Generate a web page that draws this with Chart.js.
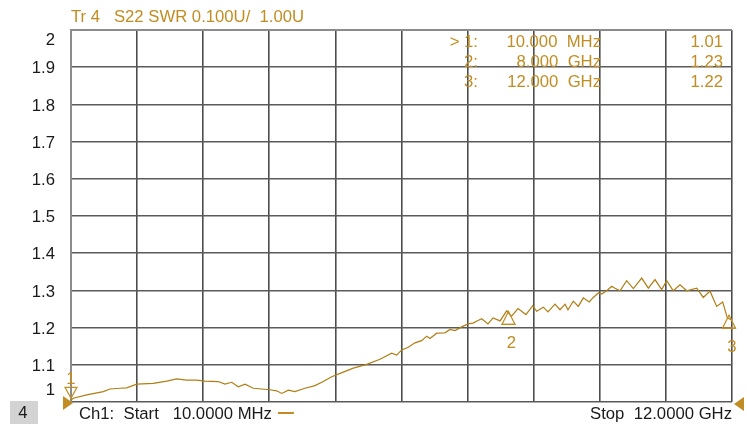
<!DOCTYPE html>
<html>
<head>
<meta charset="utf-8">
<script src="https://cdn.jsdelivr.net/npm/chart.js@4"></script>
<style>
  html, body { margin: 0; padding: 0; background: #fff; }
  #wrap { width: 747px; height: 426px; position: relative; }
</style>
</head>
<body>
<div id="wrap"><canvas id="swrChart" width="747" height="426"></canvas></div>
<script>
// trace: frequency (GHz) and SWR
var freqs = [0.01, 0.052, 0.295, 0.596, 0.717, 0.899, 1.020, 1.202, 1.503, 1.746,
  1.927, 2.109, 2.290, 2.441, 2.682, 2.803, 2.925, 3.045, 3.166, 3.317,
  3.469, 3.620, 3.741, 3.832, 3.952, 4.073, 4.254, 4.436, 4.586, 4.739,
  4.926, 5.131, 5.374, 5.615, 5.827, 5.918, 6.009, 6.128, 6.250, 6.371,
  6.462, 6.522, 6.643, 6.794, 6.885, 6.975, 7.097, 7.211, 7.302, 7.393,
  7.460, 7.574, 7.665, 7.792, 7.913, 8.000, 8.118, 8.263, 8.385, 8.457,
  8.577, 8.662, 8.789, 8.880, 8.971, 9.025, 9.121, 9.212, 9.303, 9.411,
  9.484, 9.575, 9.636, 9.727, 9.818, 9.878, 9.968, 10.090, 10.210, 10.362,
  10.482, 10.603, 10.725, 10.816, 10.935, 11.057, 11.178, 11.360, 11.479, 11.601,
  11.722, 11.831, 11.915, 12.0];
var swr = [1.005, 1.010, 1.019, 1.028, 1.035, 1.037, 1.038, 1.048, 1.050, 1.056,
  1.062, 1.059, 1.059, 1.056, 1.055, 1.048, 1.053, 1.041, 1.048, 1.037,
  1.035, 1.033, 1.030, 1.023, 1.032, 1.028, 1.037, 1.044, 1.055, 1.068,
  1.079, 1.091, 1.101, 1.115, 1.131, 1.126, 1.140, 1.147, 1.159, 1.165,
  1.177, 1.171, 1.185, 1.186, 1.195, 1.192, 1.202, 1.210, 1.212, 1.219,
  1.224, 1.210, 1.226, 1.218, 1.245, 1.230, 1.251, 1.235, 1.259, 1.244,
  1.255, 1.242, 1.263, 1.248, 1.263, 1.248, 1.271, 1.257, 1.280, 1.269,
  1.281, 1.293, 1.290, 1.299, 1.311, 1.306, 1.299, 1.326, 1.305, 1.333,
  1.306, 1.329, 1.302, 1.326, 1.299, 1.315, 1.299, 1.306, 1.281, 1.298,
  1.257, 1.269, 1.226, 1.22];

var yTicks = [1, 1.1, 1.2, 1.3, 1.4, 1.5, 1.6, 1.7, 1.8, 1.9, 2];
var yTickLabels = ['1', '1.1', '1.2', '1.3', '1.4', '1.5', '1.6', '1.7', '1.8', '1.9', '2'];
var xStart = 0.01, xStop = 12.0, xDivs = 10;

var markerIds = ['1', '2', '3'];
var markerFreqs = [0.01, 8.0, 12.0];
var markerVals = [1.01, 1.23, 1.22];
var markerFreqText = ['10.000  MHz', '8.000  GHz', '12.000  GHz'];
var markerValText = ['1.01', '1.23', '1.22'];

var titleText = 'Tr 4   S22 SWR 0.100U/  1.00U';
var startText = 'Ch1:  Start   10.0000 MHz';
var stopText = 'Stop  12.0000 GHz';

var GOLD = '#c18d22';
var TRACE = '#b07e14';
var FONT = '16.7px "Liberation Sans", Arial, sans-serif';

var xGrid = [];
for (var i = 0; i <= xDivs; i++) xGrid.push(xStart + (xStop - xStart) * i / xDivs);

var points = freqs.map((f, i) => ({ x: f, y: swr[i] }));

function tri(ctx, x, y, w, h, up, fill) {
    ctx.beginPath();
    if (up) {
        ctx.moveTo(x, y); ctx.lineTo(x - w / 2, y + h); ctx.lineTo(x + w / 2, y + h);
    } else {
        ctx.moveTo(x, y); ctx.lineTo(x - w / 2, y - h); ctx.lineTo(x + w / 2, y - h);
    }
    ctx.closePath();
    if (fill) ctx.fill(); else ctx.stroke();
}

function tri2(ctx, x, y, h, w, right) {
    ctx.beginPath();
    if (right) {
        ctx.moveTo(x, y); ctx.lineTo(x + w, y + h / 2); ctx.lineTo(x, y + h);
    } else {
        ctx.moveTo(x, y); ctx.lineTo(x - w, y + h / 2); ctx.lineTo(x, y + h);
    }
    ctx.closePath();
    ctx.fill();
}

const overlay = {
    id: 'overlay',
    beforeDatasetsDraw(chart) {
        // lighter frame on the left and top, as on the screen
        const ctx = chart.ctx, a = chart.chartArea;
        ctx.save();
        ctx.strokeStyle = '#8c8c8c';
        ctx.lineWidth = 2;
        ctx.beginPath();
        ctx.moveTo(a.left, a.bottom + 1); ctx.lineTo(a.left, a.top); ctx.lineTo(a.right, a.top);
        ctx.stroke();
        ctx.restore();
    },
    afterDraw(chart) {
        const ctx = chart.ctx;
        const xs = chart.scales.x, ys = chart.scales.y;
        const a = chart.chartArea;
        ctx.save();
        ctx.font = FONT;
        ctx.textBaseline = 'middle';

        // y labels
        ctx.fillStyle = '#1a1a1a';
        ctx.textAlign = 'right';
        yTicks.forEach((v, i) => {
            let py = ys.getPixelForValue(v) + 1.5;
            if (i === 0) py = a.bottom - 12;
            if (i === yTicks.length - 1) py = a.top + 10;
            ctx.fillText(yTickLabels[i], 55, py);
        });

        // title
        ctx.fillStyle = GOLD;
        ctx.textAlign = 'left';
        ctx.fillText(titleText, 71, 17);

        // marker table
        markerIds.forEach((m, i) => {
            const py = 42 + i * 20;
            ctx.textAlign = 'right';
            ctx.fillText((i === 0 ? '> ' : '') + m + ':', 478, py);
            ctx.fillText(markerFreqText[i], 601, py);
            ctx.fillText(markerValText[i], 723, py);
        });

        // bottom texts
        ctx.textAlign = 'left';
        ctx.fillStyle = '#1a1a1a';
        ctx.fillText(startText, 79, 414);
        const w = ctx.measureText(startText).width;
        ctx.strokeStyle = GOLD;
        ctx.lineWidth = 2;
        ctx.beginPath(); ctx.moveTo(79 + w + 6, 413); ctx.lineTo(79 + w + 22, 413); ctx.stroke();
        ctx.textAlign = 'right';
        ctx.fillText(stopText, 732, 414);

        // channel box
        ctx.fillStyle = '#d3d3d3';
        ctx.fillRect(10, 401, 28, 23);
        ctx.fillStyle = '#1a1a1a';
        ctx.textAlign = 'center';
        ctx.fillText('4', 23, 413);

        // markers
        ctx.strokeStyle = GOLD;
        ctx.fillStyle = GOLD;
        ctx.lineWidth = 1.2;
        markerIds.forEach((m, i) => {
            const px = xs.getPixelForValue(markerFreqs[i]);
            const py = ys.getPixelForValue(markerVals[i]);
            ctx.textAlign = 'center';
            if (i === 0) {
                tri(ctx, px, py, 12, 11, false, false);
                ctx.fillText(m, px, py - 19);
            } else {
                tri(ctx, px - 3, py - 5, 13, 13, true, false);
                ctx.beginPath(); ctx.moveTo(px - 10, py + 8); ctx.lineTo(px + 4, py + 8); ctx.stroke();
                ctx.fillText(m, px, py + 27);
            }
        });

        // reference pointers
        tri2(ctx, a.left - 8, a.bottom - 6, 14, 10, true);
        tri2(ctx, a.right + 12, a.bottom - 5, 14, 10, false);
        ctx.restore();
    }
};

new Chart(document.getElementById('swrChart').getContext('2d'), {
    type: 'line',
    data: {
        datasets: [{
            data: points,
            borderColor: TRACE,
            borderWidth: 1.2,
            pointRadius: 0,
            tension: 0,
            fill: false
        }]
    },
    plugins: [overlay],
    options: {
        responsive: false,
        animation: false,
        layout: { padding: { left: 71, right: 15, top: 30, bottom: 24 } },
        plugins: { legend: { display: false }, tooltip: { enabled: false } },
        scales: {
            x: {
                type: 'linear',
                min: xStart,
                max: xStop,
                afterBuildTicks: s => { s.ticks = xGrid.map(v => ({ value: v })); },
                afterFit: s => { s.height = 0; },
                ticks: { display: false },
                grid: { color: '#4d4d4d', lineWidth: 1.6, drawTicks: false },
                border: { display: false }
            },
            y: {
                min: 1,
                max: 2,
                afterBuildTicks: s => { s.ticks = yTicks.map(v => ({ value: v })); },
                afterFit: s => { s.width = 0; },
                ticks: { display: false },
                grid: { color: '#5a5a5a', lineWidth: 1.6, drawTicks: false },
                border: { display: false }
            }
        }
    }
});
</script>
</body>
</html>
